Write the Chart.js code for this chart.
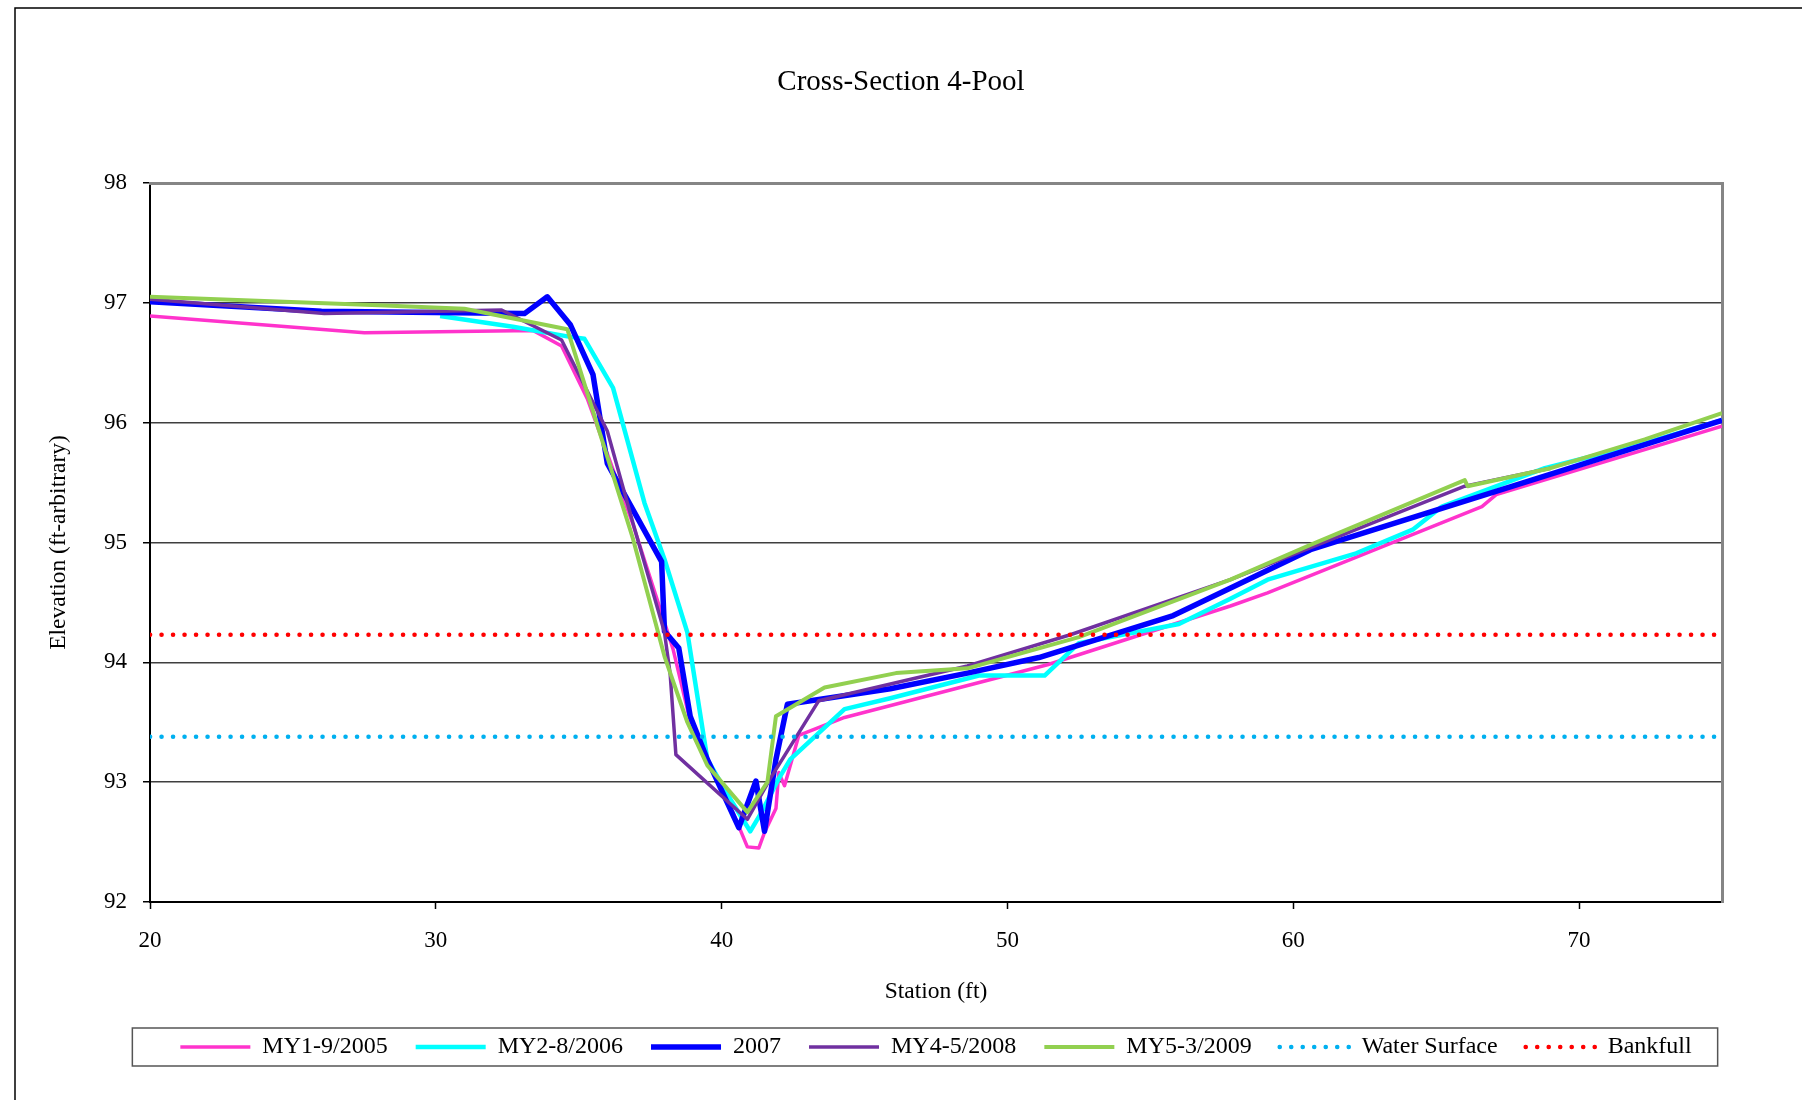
<!DOCTYPE html>
<html>
<head>
<meta charset="utf-8">
<title>Cross-Section 4-Pool</title>
<script src="https://cdn.jsdelivr.net/npm/chart.js@4.4.1/dist/chart.umd.min.js"></script>
<style>
  html, body { margin: 0; padding: 0; background: #fff; }
</style>
</head>
<body>
<canvas id="xsChart" width="1802" height="1100"></canvas>
<script>
// Survey data: station (ft) and elevation (ft-arbitrary)
const my1Station = [20, 27.5, 33.4, 34.4, 35.3, 36.9, 38.3, 39.0, 40.2, 40.9, 41.3, 41.5, 41.9, 42.0, 42.2, 42.7, 44.3, 51.4, 57.8, 59.1, 66.6, 67.1, 75];
const my1Elev = [96.89, 96.75, 96.77, 96.64, 96.2, 95.15, 94.11, 93.41, 92.86, 92.46, 92.45, 92.58, 92.78, 93.08, 92.97, 93.39, 93.54, 93.98, 94.47, 94.58, 95.30, 95.40, 95.97];

const my2Station = [30.15, 32.7, 34.6, 35.2, 36.2, 37.3, 38.0, 38.8, 39.5, 40.3, 41.0, 41.4, 42.0, 42.4, 44.3, 45.9, 49.0, 51.3, 52.5, 56.0, 57.8, 59.1, 62.2, 64.2, 65.2, 68.8, 72.3, 75];
const my2Elev = [96.89, 96.80, 96.72, 96.70, 96.29, 95.33, 94.86, 94.25, 93.19, 92.86, 92.59, 92.75, 93.03, 93.19, 93.61, 93.70, 93.89, 93.89, 94.16, 94.32, 94.53, 94.69, 94.91, 95.11, 95.30, 95.62, 95.83, 96.02];

const y2007Station = [20, 26.0, 33.1, 33.9, 34.7, 35.5, 36.0, 37.9, 38.0, 38.5, 38.9, 39.5, 40.6, 41.2, 41.5, 41.9, 42.3, 43.4, 45.9, 48.6, 51.1, 55.8, 60.6, 75];
const y2007Elev = [97.01, 96.93, 96.91, 97.05, 96.82, 96.40, 95.66, 94.84, 94.26, 94.12, 93.55, 93.19, 92.62, 93.01, 92.59, 93.19, 93.65, 93.69, 93.78, 93.91, 94.04, 94.39, 94.94, 96.02];

const my4Station = [20, 26.1, 32.3, 34.4, 36.0, 36.9, 38.0, 38.2, 38.4, 40.9, 41.7, 43.4, 48.6, 52.2, 57.8, 66.0, 69.0];
const my4Elev = [97.03, 96.91, 96.94, 96.69, 95.93, 95.16, 94.25, 93.9, 93.23, 92.69, 93.03, 93.68, 93.97, 94.23, 94.69, 95.47, 95.62];

const my5Station = [20, 28.0, 31.0, 34.6, 36.9, 38.0, 38.8, 39.5, 40.9, 41.6, 41.9, 43.6, 46.1, 48.6, 52.5, 57.8, 60.6, 66.0, 66.1, 69.0, 72.3, 75];
const my5Elev = [97.05, 96.98, 96.95, 96.78, 95.03, 94.05, 93.50, 93.14, 92.75, 93.00, 93.55, 93.79, 93.91, 93.95, 94.21, 94.69, 94.98, 95.52, 95.47, 95.62, 95.86, 96.08];

const waterStation = [20, 75];
const waterElev = [93.38, 93.38];

const bankfullStation = [20, 75];
const bankfullElev = [94.23, 94.23];

const seriesNames = ['MY1-9/2005', 'MY2-8/2006', '2007', 'MY4-5/2008', 'MY5-3/2009', 'Water Surface', 'Bankfull'];

function toPoints(xs, ys) {
  return xs.map((x, i) => ({ x: x, y: ys[i] }));
}

// solid survey line
function surveyLine(i, xs, ys, color, width) {
  return {
    label: seriesNames[i],
    data: toPoints(xs, ys),
    borderColor: color,
    backgroundColor: color,
    borderWidth: width,
    borderJoinStyle: 'round',
    showLine: true,
    pointRadius: 0,
    order: 10 - i  // Excel draws later series on top
  };
}

// dotted reference line
function levelLine(i, xs, ys, color) {
  return {
    label: seriesNames[i],
    data: toPoints(xs, ys),
    borderColor: color,
    backgroundColor: color,
    borderWidth: 4.5,
    borderDash: [0.1, 11.4],
    borderCapStyle: 'round',
    showLine: true,
    pointRadius: 0,
    order: 10 - i
  };
}

// legend samples should copy the dataset line (dash, cap, width)
function legendLabels(chart) {
  const items = Chart.defaults.plugins.legend.labels.generateLabels(chart);
  items.forEach(item => {
    const ds = chart.data.datasets[item.datasetIndex];
    item.lineDash = ds.borderDash || [];
    item.lineCap = ds.borderCapStyle || 'butt';
    item.lineWidth = ds.borderWidth;
    item.strokeStyle = ds.borderColor;
  });
  return items;
}

// white page, outer chart frame and the legend box
const framePlugin = {
  id: 'frames',
  beforeDraw(chart) {
    const ctx = chart.ctx;
    ctx.save();
    ctx.fillStyle = '#fff';
    ctx.fillRect(0, 0, chart.width, chart.height);
    ctx.strokeStyle = '#000';
    ctx.lineWidth = 1.5;
    ctx.strokeRect(15, 8, chart.width, chart.height);
    ctx.restore();
  },
  afterDraw(chart) {
    const hb = chart.legend.legendHitBoxes;
    if (!hb || !hb.length) return;
    const first = hb[0];
    const last = hb[hb.length - 1];
    const mid = first.top + first.height / 2;
    const left = first.left - 48;
    const right = last.left + last.width + 26;
    const ctx = chart.ctx;
    ctx.save();
    ctx.strokeStyle = '#555';
    ctx.lineWidth = 1.5;
    ctx.strokeRect(left, mid - 19, right - left, 38);
    ctx.restore();
  }
};

Chart.defaults.font.family = "'Liberation Serif', 'Times New Roman', serif";
Chart.defaults.color = '#000';

const ctx = document.getElementById('xsChart').getContext('2d');
new Chart(ctx, {
  type: 'scatter',
  data: {
    datasets: [
      surveyLine(0, my1Station, my1Elev, '#FF33CC', 3.5),
      surveyLine(1, my2Station, my2Elev, '#00FFFF', 4.5),
      surveyLine(2, y2007Station, y2007Elev, '#0000FF', 5.5),
      surveyLine(3, my4Station, my4Elev, '#7030A0', 3.5),
      surveyLine(4, my5Station, my5Elev, '#92D050', 4),
      levelLine(5, waterStation, waterElev, '#00B0F0'),
      levelLine(6, bankfullStation, bankfullElev, '#FF0000')
    ]
  },
  options: {
    responsive: false,
    devicePixelRatio: 1,
    animation: false,
    events: [],
    layout: { padding: { top: 0, left: 0, right: 0, bottom: 31 } },
    plugins: {
      tooltip: { enabled: false },
      title: {
        display: true,
        text: 'Cross-Section 4-Pool',
        color: '#000',
        font: { size: 29, weight: 'normal' },
        padding: { top: 65, bottom: 83.2 }
      },
      legend: {
        position: 'bottom',
        fullSize: false,
        labels: {
          usePointStyle: true,
          pointStyle: 'line',
          pointStyleWidth: 70,
          padding: 28,
          color: '#000',
          font: { size: 24 },
          generateLabels: legendLabels,
          sort: (a, b) => a.datasetIndex - b.datasetIndex
        }
      }
    },
    scales: {
      x: {
        type: 'linear',
        position: 'bottom',
        min: 20,
        max: 75,
        afterFit: s => { s.height = 105; },
        grid: { drawOnChartArea: false, tickLength: 7, tickColor: '#000', tickWidth: 1.5 },
        border: { color: '#000', width: 2 },
        ticks: { stepSize: 10, includeBounds: false, padding: 18.5, maxRotation: 0, color: '#000', font: { size: 23 } },
        title: { display: true, text: 'Station (ft)', color: '#000', font: { size: 23.5 }, padding: { top: 0, bottom: 1 } }
      },
      y: {
        type: 'linear',
        position: 'left',
        min: 92,
        max: 98,
        afterFit: s => { s.width = 150; },
        grid: {
          color: c => {
            if (c.tick && c.tick.value === 98) return 'rgba(0,0,0,0)';
            if (c.tick && c.tick.value === 92) return '#000';
            return '#3f3f3f';
          },
          lineWidth: 1.5,
          tickLength: 7,
          tickColor: '#000',
          tickWidth: 1.5
        },
        border: { color: '#000', width: 2 },
        ticks: { stepSize: 1, padding: 16, color: '#000', font: { size: 23 } },
        title: { display: true, text: 'Elevation (ft-arbitrary)', color: '#000', font: { size: 23.5 }, padding: { top: 45, bottom: 0 } }
      },
      xTop: {
        type: 'linear',
        position: 'top',
        min: 20,
        max: 75,
        afterFit: s => { s.height = 0; },
        grid: { drawOnChartArea: false, drawTicks: false },
        ticks: { display: false },
        border: { color: '#858585', width: 3 }
      },
      yRight: {
        type: 'linear',
        position: 'right',
        min: 92,
        max: 98,
        afterFit: s => { s.width = 80; },
        grid: { drawOnChartArea: false, drawTicks: false },
        ticks: { display: false },
        border: { color: '#858585', width: 3 }
      }
    }
  },
  plugins: [framePlugin]
});
</script>
</body>
</html>
